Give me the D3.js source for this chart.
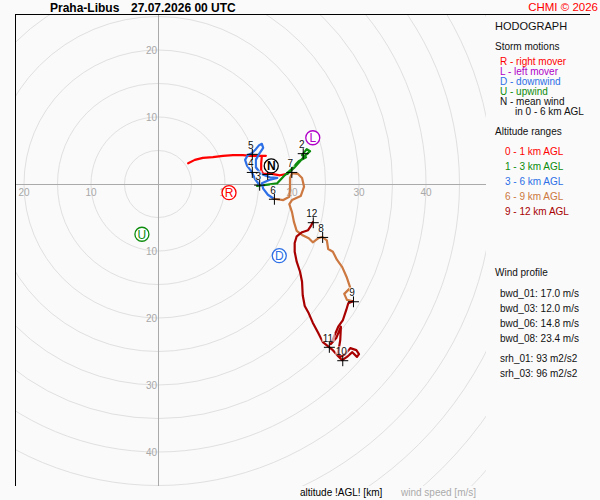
<!DOCTYPE html>
<html>
<head>
<meta charset="utf-8">
<script src="https://cdn.jsdelivr.net/npm/d3@7"></script>
<style>
body { margin: 0; background: #fafafa; }
svg { display: block; font-family: "Liberation Sans", Arial, sans-serif; }
</style>
</head>
<body>
<div id="graph"></div>
<script>
// hodograph traces per altitude range, [u, v] in m/s
const layer01 = [[4.5,3.1],[5.5,3.6],[6.7,3.9],[8.2,4.0],[9.7,4.2],[11.2,4.3],[12.7,4.3],[13.7,4.2],[14.9,4.2],[16.1,4.2],
	[15.5,4.2],[15.4,3.1],[15.4,2.1],[15.7,1.5],[17.0,1.5],[18.2,1.3],[19.3,1.5]];
const layer13 = [[19.3,1.5],[20.3,2.4],[21.2,3.4],[21.9,4.2],[22.7,4.9],[22.2,5.2],[21.5,4.3],[22.1,4.0],[21.0,3.4],
	[19.9,2.2],[18.8,1.2],[17.8,0.1],[16.4,-0.1],[14.8,-0.3],[15.1,-0.1]];
const layer36 = [[15.1,-0.1],[14.5,0.7],[14.0,1.8],[13.3,2.7],[13.0,3.6],[13.4,4.3],[14.0,4.6],[14.6,5.2],[15.1,5.8],
	[15.5,6.0],[15.7,5.4],[15.1,4.5],[14.6,3.6],[14.6,2.5],[15.4,1.5],[16.7,1.0],[17.8,0.9],[16.6,0.6],[15.5,0.1],
	[15.7,-0.7],[16.4,-1.6],[17.3,-2.2]];
const layer69 = [[17.3,-2.2],[18.7,-2.4],[19.6,-1.9],[19.7,-0.6],[19.7,0.9],[20.0,1.6],[20.9,1.5],[21.5,0.9],[21.8,-0.4],
	[21.3,-1.8],[20.0,-2.4],[19.6,-3.0],[20.0,-4.2],[20.3,-5.7],[20.7,-7.0],[21.5,-7.6],[22.5,-8.1],[23.1,-8.7],
	[23.9,-8.1],[24.5,-7.9],[25.2,-8.4],[25.4,-9.7],[26.1,-10.1],[26.7,-11.3],[27.5,-12.4],[28.2,-14.0],[28.7,-15.5],
	[27.8,-16.4],[28.2,-17.3],[29.1,-17.5]];
const layer912 = [[29.1,-17.5],[28.4,-17.8],[28.1,-18.8],[27.6,-20.3],[26.9,-21.3],[26.3,-22.7],[25.8,-23.9],[26.6,-23.0],
	[27.3,-21.3],[27.2,-23.3],[26.9,-25.1],[27.2,-25.8],[27.9,-25.4],[28.7,-24.5],[29.6,-24.8],[30.0,-25.4],[29.7,-25.8],
	[29.0,-25.1],[28.2,-25.8],[27.5,-26.3],[26.9,-25.7],[26.1,-24.8],[25.5,-24.3],[24.6,-23.6],[23.9,-22.2],[23.1,-20.7],
	[22.5,-19.3],[21.9,-18.2],[21.6,-16.6],[21.5,-14.6],[21.2,-13.1],[20.7,-11.6],[20.4,-10.1],[20.4,-8.8],[20.7,-7.8],
	[21.5,-7.2],[22.4,-6.9],[22.8,-6.3],[23.1,-5.7]];

const layerLabels = ["0 - 1 km AGL", "1 - 3 km AGL", "3 - 6 km AGL", "6 - 9 km AGL", "9 - 12 km AGL"];
const layerColors = ["#ff0000", "#0c8c0c", "#2c6fe6", "#cc7840", "#a80000"];

// altitude marks (km) and their wind [u, v]
const altKm = [1, 2, 3, 4, 5, 6, 7, 8, 9, 10, 11, 12];
const altWind = [[16.3,1.5],[21.6,4.6],[15.1,-0.1],[14.0,1.8],[14.0,4.5],[17.3,-2.2],[19.9,1.8],[24.5,-7.9],
	[29.1,-17.5],[27.5,-26.3],[25.5,-24.3],[23.1,-5.7]];

// storm motions
const stormKeys = ["R", "L", "D", "U", "N"];
const stormWind = [[10.6,-1.3],[23.1,6.9],[18.1,-10.7],[-2.4,-7.5],[16.9,2.7]];
const stormColors = ["#ff0000", "#b000c8", "#2c6fe6", "#0c8c0c", "#000000"];
const stormLabels = ["R - right mover", "L - left mover", "D - downwind", "U - upwind", "N - mean wind"];

// wind profile parameters
const profileNames = ["bwd_01", "bwd_03", "bwd_06", "bwd_08", "srh_01", "srh_03"];
const profileValues = ["17.0 m/s", "12.0 m/s", "14.8 m/s", "23.4 m/s", "93 m2/s2", "96 m2/s2"];

// grid
const ringSpeeds = [5, 10, 15, 20, 25, 30, 35, 40, 45, 50, 55, 60, 65, 70];
const tickSpeeds = [-40, -30, -20, -10, 10, 20, 30, 40];

const fullWidth = 600;
const fullHeight = 500;
const plot = { left: 16, top: 15, right: 486, bottom: 486 };
const origin = { x: 158, y: 184 };
const pxPerMs = 6.7;

const svg = d3.select("#graph")
	.append("svg")
	.attr("width", fullWidth)
	.attr("height", fullHeight);

const x = d3.scaleLinear()
	.domain([(plot.left - origin.x) / pxPerMs, (plot.right - origin.x) / pxPerMs])
	.range([plot.left, plot.right]);
const y = d3.scaleLinear()
	.domain([(origin.y - plot.bottom) / pxPerMs, (origin.y - plot.top) / pxPerMs])
	.range([plot.bottom, plot.top]);

svg.append("clipPath").attr("id", "plotClip")
	.append("rect")
	.attr("x", plot.left).attr("y", plot.top)
	.attr("width", plot.right - plot.left).attr("height", plot.bottom - plot.top);

const grid = svg.append("g").attr("clip-path", "url(#plotClip)");

// speed rings
grid.selectAll(".ring")
	.data(ringSpeeds)
	.enter().append("circle")
	.attr("class", "ring")
	.attr("cx", x(0))
	.attr("cy", y(0))
	.attr("r", d => x(d) - x(0))
	.attr("fill", "none")
	.attr("stroke", "#e0e0e0")
	.attr("stroke-width", 1);

// axes through the origin
grid.append("line")
	.attr("x1", plot.left).attr("x2", plot.right)
	.attr("y1", y(0) + 0.5).attr("y2", y(0) + 0.5)
	.attr("stroke", "#aaaaaa");
grid.append("line")
	.attr("x1", x(0) + 0.5).attr("x2", x(0) + 0.5)
	.attr("y1", plot.top).attr("y2", plot.bottom)
	.attr("stroke", "#aaaaaa");

// frame (left and top only)
svg.append("line")
	.attr("x1", plot.left - 0.5).attr("x2", plot.left - 0.5)
	.attr("y1", plot.top).attr("y2", plot.bottom)
	.attr("stroke", "#000");
svg.append("line")
	.attr("x1", plot.left - 1).attr("x2", 590)
	.attr("y1", plot.top - 0.5).attr("y2", plot.top - 0.5)
	.attr("stroke", "#000");

// tick labels
const xTicks = tickSpeeds.filter(d => x(d) > plot.left + 4 && x(d) < plot.right - 8);
const yTicks = tickSpeeds.filter(d => y(d) > plot.top + 8 && y(d) < plot.bottom - 8);

grid.selectAll(".xlab")
	.data(xTicks)
	.enter().append("text")
	.attr("class", "xlab")
	.attr("x", d => x(d))
	.attr("y", y(0) + 12)
	.attr("text-anchor", "middle")
	.attr("font-size", 10)
	.attr("fill", "#a8a8a8")
	.text(d => Math.abs(d));

grid.selectAll(".ylab")
	.data(yTicks)
	.enter().append("text")
	.attr("class", "ylab")
	.attr("x", x(0) - 1)
	.attr("y", d => y(d) + 4)
	.attr("text-anchor", "end")
	.attr("font-size", 10)
	.attr("fill", "#a8a8a8")
	.text(d => Math.abs(d));

// hodograph
const line = d3.line()
	.x(d => x(d[0]))
	.y(d => y(d[1]));

const layers = [layer01, layer13, layer36, layer69, layer912];

grid.selectAll(".layer")
	.data(layers)
	.enter().append("path")
	.attr("class", "layer")
	.attr("d", line)
	.attr("fill", "none")
	.attr("stroke", (d, i) => layerColors[i])
	.attr("stroke-width", 2.2)
	.attr("stroke-linejoin", "round")
	.attr("stroke-linecap", "round");

// altitude marks
const marks = grid.selectAll(".mark")
	.data(altKm)
	.enter().append("g")
	.attr("class", "mark")
	.attr("transform", (d, i) => `translate(${x(altWind[i][0])},${y(altWind[i][1])})`);

marks.append("path")
	.attr("d", "M-5,0.5H6M0.5,-5V6")
	.attr("stroke", "#000")
	.attr("stroke-width", 1);

marks.append("rect")
	.attr("x", d => d > 9 ? -7 : -4)
	.attr("y", -14)
	.attr("width", d => d > 9 ? 13 : 7)
	.attr("height", 9)
	.attr("fill", "#ffffff")
	.attr("fill-opacity", 0.6);

marks.append("text")
	.attr("x", -1)
	.attr("y", -5)
	.attr("text-anchor", "middle")
	.attr("font-size", 10)
	.attr("fill", "#111")
	.text(d => d);

// storm motion symbols
const storms = grid.selectAll(".storm")
	.data(stormKeys)
	.enter().append("g")
	.attr("class", "storm")
	.attr("transform", (d, i) => `translate(${x(stormWind[i][0])},${y(stormWind[i][1])})`);

storms.append("circle")
	.attr("r", 7)
	.attr("fill", "#ffffff")
	.attr("stroke", (d, i) => stormColors[i])
	.attr("stroke-width", 1.3);

storms.append("text")
	.attr("y", 4.5)
	.attr("text-anchor", "middle")
	.attr("font-size", 12)
	.attr("font-weight", d => d == "N" ? "bold" : "normal")
	.attr("fill", (d, i) => stormColors[i])
	.text(d => d);

// header
svg.append("text")
	.attr("x", 50).attr("y", 12)
	.attr("font-size", 12).attr("font-weight", "bold")
	.text("Praha-Libus");
svg.append("text")
	.attr("x", 131).attr("y", 12)
	.attr("font-size", 12).attr("font-weight", "bold")
	.text("27.07.2026 00 UTC");
svg.append("text")
	.attr("x", 598).attr("y", 11)
	.attr("text-anchor", "end")
	.attr("font-size", 11.5)
	.attr("fill", "#ff0000")
	.text("CHMI \u00a9 2026");

// right panel
const panel = svg.append("g").attr("fill", "#111");

panel.append("text").attr("x", 495).attr("y", 30).attr("font-size", 11).text("HODOGRAPH");
panel.append("text").attr("x", 495).attr("y", 50).attr("font-size", 10).text("Storm motions");

panel.selectAll(".stormLeg")
	.data(stormLabels)
	.enter().append("text")
	.attr("class", "stormLeg")
	.attr("x", 500)
	.attr("y", (d, i) => 64.5 + i * 10)
	.attr("font-size", 10)
	.attr("fill", (d, i) => i == 4 ? "#111" : stormColors[i])
	.text(d => d);
panel.append("text").attr("x", 515).attr("y", 114.5).attr("font-size", 10).text("in 0 - 6 km AGL");

panel.append("text").attr("x", 495).attr("y", 135).attr("font-size", 10).text("Altitude ranges");

panel.selectAll(".layerLeg")
	.data(layerLabels)
	.enter().append("text")
	.attr("class", "layerLeg")
	.attr("x", 505)
	.attr("y", (d, i) => 155 + i * 15)
	.attr("font-size", 10)
	.attr("fill", (d, i) => layerColors[i])
	.text(d => d);

panel.append("text").attr("x", 495).attr("y", 275.5).attr("font-size", 10).text("Wind profile");

panel.selectAll(".prof")
	.data(profileNames)
	.enter().append("text")
	.attr("class", "prof")
	.attr("x", 500)
	.attr("y", (d, i) => 296.5 + i * 15 + (i > 3 ? 5 : 0))
	.attr("font-size", 10)
	.text((d, i) => d + ": " + profileValues[i]);

// bottom captions
svg.append("text")
	.attr("x", 300).attr("y", 496)
	.attr("font-size", 10)
	.attr("fill", "#000")
	.text("altitude !AGL! [km]");
svg.append("text")
	.attr("x", 401).attr("y", 496)
	.attr("font-size", 10)
	.attr("fill", "#aaaaaa")
	.text("wind speed [m/s]");
</script>
</body>
</html>
